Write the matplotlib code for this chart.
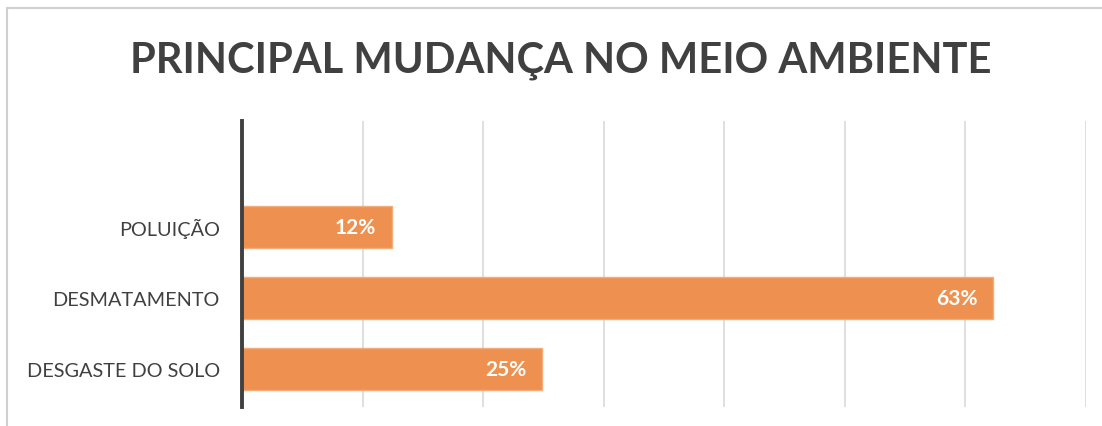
import matplotlib
matplotlib.use("Agg")
import matplotlib.pyplot as plt
from matplotlib.patches import Rectangle

categories = ["DESGASTE DO SOLO", "DESMATAMENTO", "POLUIÇÃO"]
values = [24.9, 62.3, 12.4]
value_labels = ["25%", "63%", "12%"]
title = "PRINCIPAL MUDANÇA NO MEIO AMBIENTE"

W, H = 1102, 427
fig = plt.figure(figsize=(W / 100, H / 100), dpi=100)
fig.patch.set_facecolor("white")

# frame border (left/top visible, cut off right/bottom)
fig.patches.append(Rectangle((7 / W, -0.1), 1.2, (H - 9) / H + 0.1, transform=fig.transFigure,
                             fill=False, edgecolor="#D0D0D0", linewidth=1.5, zorder=0))

ax = fig.add_axes([242 / W, (H - 408) / H, (1086 - 242) / W, (408 - 122) / H])
ypos = list(range(len(categories)))
ax.barh(ypos, values, height=0.6, color="#EE9150", edgecolor="#F3AD7C", linewidth=1, zorder=2)
ax.set_xlim(0, 70)
ax.set_ylim(-0.535, 3.49)
ax.set_xticks([10, 20, 30, 40, 50, 60, 70])
ax.xaxis.grid(True, color="#D9D9D9", linewidth=1.2, zorder=0)
ax.set_axisbelow(True)
ax.tick_params(axis="x", length=0, labelbottom=False)
ax.tick_params(axis="y", length=0, pad=16)
ax.set_yticks(ypos)
ax.set_yticklabels(categories, fontsize=14.3, color="#404040", family="Lato")
for s in ["top", "right", "bottom"]:
    ax.spines[s].set_visible(False)
ax.spines["left"].set_color("#404040")
ax.spines["left"].set_linewidth(2.8)
ax.spines["left"].set_zorder(3)

for y, v, lab in zip(ypos, values, value_labels):
    ax.annotate(lab, xy=(v, y), xytext=(-11.5, 0), textcoords="offset points",
                ha="right", va="center", color="white", fontsize=15, fontweight="bold",
                family="Lato", zorder=4)

fig.text(561 / W, 1 - 61 / H, title, ha="center", va="center", fontsize=30,
         fontweight="bold", color="#404040", family="Lato")

fig.savefig("out.png", dpi=100, facecolor="white")
